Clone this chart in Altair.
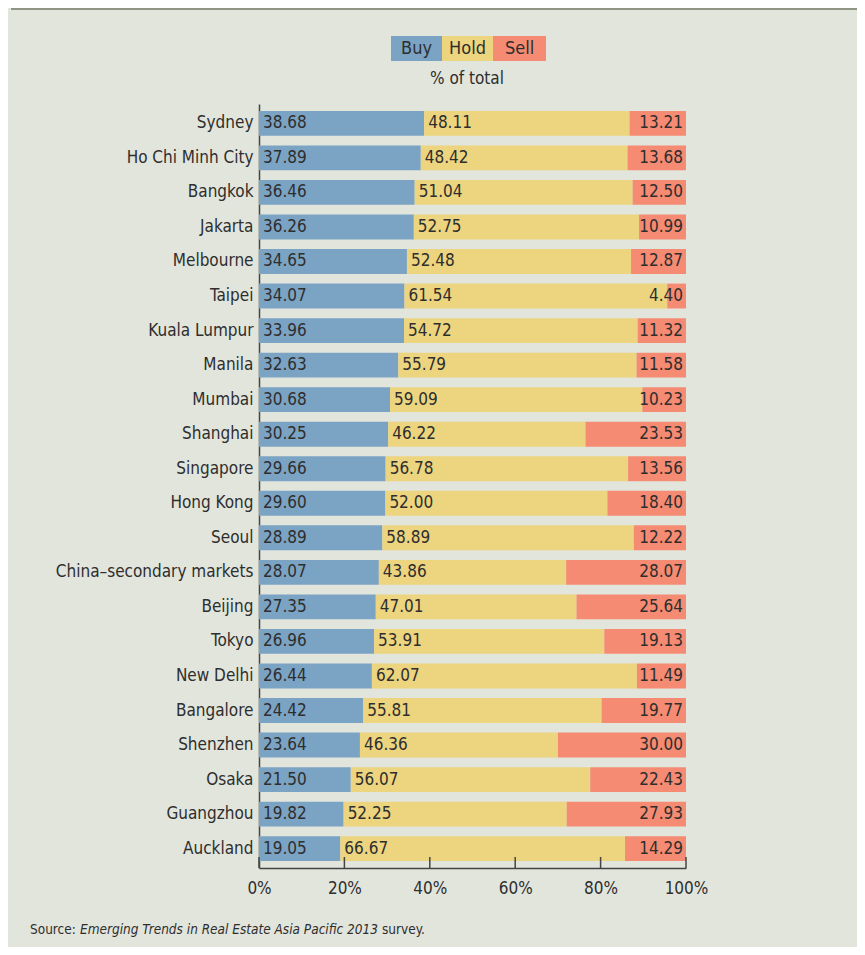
import altair as alt
import pandas as pd

cities = ["Sydney", "Ho Chi Minh City", "Bangkok", "Jakarta", "Melbourne", "Taipei",
          "Kuala Lumpur", "Manila", "Mumbai", "Shanghai", "Singapore", "Hong Kong",
          "Seoul", "China\u2013secondary markets", "Beijing", "Tokyo", "New Delhi",
          "Bangalore", "Shenzhen", "Osaka", "Guangzhou", "Auckland"]
buy = [38.68, 37.89, 36.46, 36.26, 34.65, 34.07, 33.96, 32.63, 30.68, 30.25, 29.66,
       29.60, 28.89, 28.07, 27.35, 26.96, 26.44, 24.42, 23.64, 21.50, 19.82, 19.05]
hold = [48.11, 48.42, 51.04, 52.75, 52.48, 61.54, 54.72, 55.79, 59.09, 46.22, 56.78,
        52.00, 58.89, 43.86, 47.01, 53.91, 62.07, 55.81, 46.36, 56.07, 52.25, 66.67]
sell = [13.21, 13.68, 12.50, 10.99, 12.87, 4.40, 11.32, 11.58, 10.23, 23.53, 13.56,
        18.40, 12.22, 28.07, 25.64, 19.13, 11.49, 19.77, 30.00, 22.43, 27.93, 14.29]
categories = ["Buy", "Hold", "Sell"]
colors = ["#7ba3c4", "#edd47e", "#f48b72"]
x_ticks = [0, 20, 40, 60, 80, 100]

FONT = "DejaVu Sans Condensed, Liberation Sans Narrow, sans-serif"
FS = 17
TXT = "#2e2e2e"
BG = "#e2e5dc"

rows = []
for c, b, h, s in zip(cities, buy, hold, sell):
    start = 0.0
    for cat, v in zip(categories, [b, h, s]):
        rows.append({"city": c, "category": cat, "value": v,
                     "start": start, "end": min(start + v, 100.0)})
        start += v
df = pd.DataFrame(rows)

W, H = 427, 764
PAD_L, PAD_T = 251, 96
TOTAL_W, TOTAL_H = 849, 939

yenc = alt.Y("city:N", sort=cities, title=None,
             scale=alt.Scale(paddingInner=0.28, paddingOuter=0.2),
             axis=alt.Axis(ticks=False, domainColor="#444", domainWidth=1.5,
                           labelFont=FONT, labelFontSize=FS, labelColor=TXT,
                           labelPadding=6, labelLimit=0))
xscale = alt.Scale(domain=[0, 100], nice=False)

base = alt.Chart(df)

bars = base.mark_bar().encode(
    x=alt.X("start:Q", scale=xscale, title=None,
            axis=alt.Axis(values=x_ticks, ticks=False, grid=False,
                          labelExpr="datum.value + '%'", domainColor="#444",
                          domainWidth=1.5, labelFont=FONT, labelFontSize=FS,
                          labelColor=TXT, labelPadding=12, labelFlush=False)),
    x2="end:Q",
    y=yenc,
    color=alt.Color("category:N", scale=alt.Scale(domain=categories, range=colors),
                    legend=None),
)

labels_left = base.transform_filter("datum.category != 'Sell'").mark_text(
    align="left", baseline="middle", dx=4, font=FONT, fontSize=FS, color=TXT
).encode(x="start:Q", y=alt.Y("city:N", sort=cities),
         text=alt.Text("value:Q", format=".2f"))

labels_right = base.transform_filter("datum.category == 'Sell'").mark_text(
    align="right", baseline="middle", dx=-3, font=FONT, fontSize=FS, color=TXT
).encode(x="end:Q", y=alt.Y("city:N", sort=cities),
         text=alt.Text("value:Q", format=".2f"))

tick_df = pd.DataFrame({"t": x_ticks})
ticks = alt.Chart(tick_df).mark_rule(color="#444", strokeWidth=1.5).encode(
    x="t:Q", y=alt.value(H - 11), y2=alt.value(H))

# decorations
top_line = alt.Chart(pd.DataFrame({"a": [0]})).mark_rule(
    color="#8e9582", strokeWidth=2).encode(
    x=alt.value(-PAD_L + 3), x2=alt.value(TOTAL_W - PAD_L), y=alt.value(-PAD_T + 1))

leg_pos = {"Buy": (132, 183), "Hold": (183, 234), "Sell": (234, 287)}
leg_rects = []
for cat, col in zip(categories, colors):
    x0, x1 = leg_pos[cat]
    one = pd.DataFrame({"category": [cat]})
    leg_rects.append(alt.Chart(one).mark_rect(color=col).encode(
        x=alt.value(x0), x2=alt.value(x1),
        y=alt.value(36 - 104), y2=alt.value(61 - 104)))
    leg_rects.append(alt.Chart(one).mark_text(
        align="center", baseline="middle", font=FONT, fontSize=FS + 1, color=TXT).encode(
        x=alt.value((x0 + x1) / 2), y=alt.value(49 - 104), text="category:N"))

sub = alt.Chart(pd.DataFrame({"s": ["% of total"]})).mark_text(
    align="center", baseline="middle", font=FONT, fontSize=FS, color=TXT).encode(
    x=alt.value(467 - 259), y=alt.value(79 - 104), text="s:N")

src_y = 930 - 104
SFS = 13.5
src1 = alt.Chart(pd.DataFrame({"s": ["Source:"]})).mark_text(
    align="left", baseline="middle", font=FONT, fontSize=SFS, color=TXT).encode(
    x=alt.value(30 - 259), y=alt.value(src_y), text="s:N")
src2 = alt.Chart(pd.DataFrame({"s": ["Emerging Trends in Real Estate Asia Pacific 2013"]})).mark_text(
    align="left", baseline="middle", font=FONT, fontSize=SFS, fontStyle="italic",
    color=TXT).encode(x=alt.value(80 - 259), y=alt.value(src_y), text="s:N")
src3 = alt.Chart(pd.DataFrame({"s": ["survey."]})).mark_text(
    align="left", baseline="middle", font=FONT, fontSize=SFS, color=TXT).encode(
    x=alt.value(382 - 259), y=alt.value(src_y), text="s:N")

chart = alt.layer(
    bars, labels_left, labels_right, ticks, top_line, *leg_rects, sub,
    src1, src2, src3
).properties(
    width=W, height=H,
    autosize=alt.AutoSizeParams(type="none"),
    padding={"left": PAD_L, "top": PAD_T, "right": TOTAL_W - PAD_L - W,
             "bottom": TOTAL_H - PAD_T - H},
    background=BG,
).configure_view(stroke=None)

chart.save("out.html", embed_options={"renderer": "svg", "actions": False})
